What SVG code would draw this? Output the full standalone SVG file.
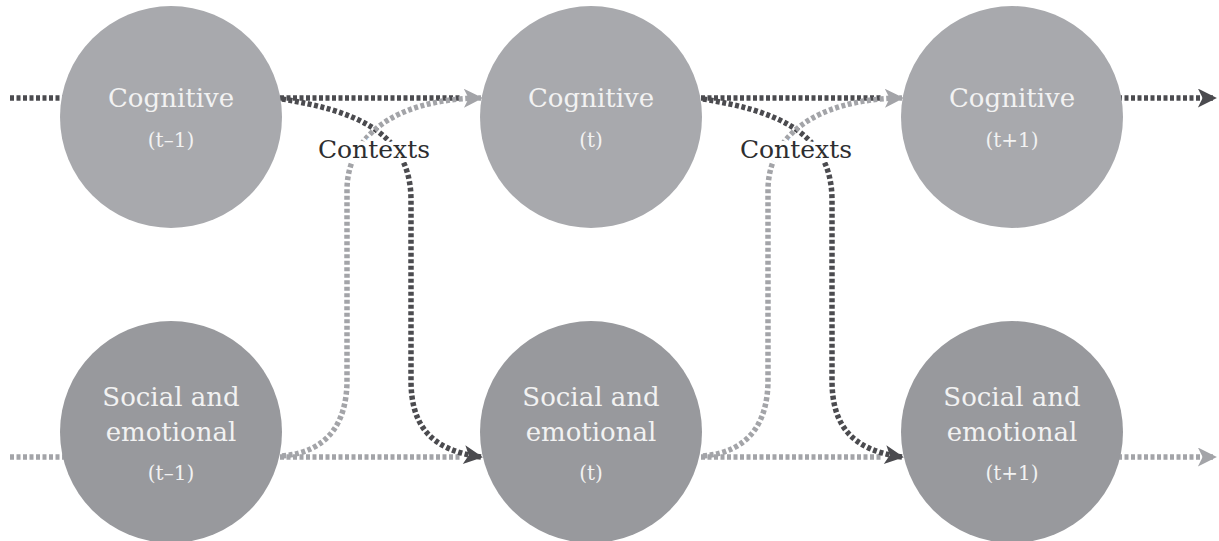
<svg xmlns="http://www.w3.org/2000/svg" width="1219" height="541" viewBox="0 0 1219 541">
  <style>
    .cog { fill: #a8a9ad; }
    .soc { fill: #98999d; }
    .lbl { font-family: "DejaVu Serif", "Liberation Serif", serif; fill: #f2f2f2; text-anchor: middle; }
    .main { font-size: 26px; }
    .sub { font-size: 20px; }
    .ctx { font-family: "DejaVu Serif", "Liberation Serif", serif; font-size: 25px; fill: #2e2e30; text-anchor: middle; stroke: #ffffff; stroke-width: 8px; paint-order: stroke; stroke-linejoin: round; }
    .dk { fill: none; stroke: #4b4b4f; stroke-width: 5.5; stroke-dasharray: 4 2.5; }
    .lt { fill: none; stroke: #a3a4a8; stroke-width: 5.5; stroke-dasharray: 4 2.5; }
  </style>
  <defs>
    <marker id="ahDark" viewBox="0 0 10 10" refX="9" refY="5" markerWidth="24" markerHeight="19" markerUnits="userSpaceOnUse" orient="auto">
      <path d="M0,0 L10,5 L0,10 L2.5,5 z" fill="#4b4b4f"/>
    </marker>
    <marker id="ahLight" viewBox="0 0 10 10" refX="9" refY="5" markerWidth="24" markerHeight="19" markerUnits="userSpaceOnUse" orient="auto">
      <path d="M0,0 L10,5 L0,10 L2.5,5 z" fill="#a3a4a8"/>
    </marker>
  </defs>

  <g id="connectors">
    <!-- leading lines -->
    <path class="dk" d="M10,98 L70,98"/>
    <path class="lt" d="M10,457 L70,457"/>

    <!-- block 1: t-1 to t -->
    <path class="dk" d="M280,98 L462,98"/>
    <path class="lt" d="M280,457 L462,457"/>
    <path class="dk" marker-end="url(#ahDark)" d="M282,99 C350,110 411,130 411,200 L411,380 C411,425 430,450 481,457"/>
    <path class="lt" marker-end="url(#ahLight)" d="M282,456 C330,452 347,420 347,380 L347,190 C347,140 390,99 481,98"/>

    <!-- block 2: t to t+1 -->
    <path class="dk" d="M701,98 L883,98"/>
    <path class="lt" d="M701,457 L883,457"/>
    <path class="dk" marker-end="url(#ahDark)" d="M703,99 C771,110 832,130 832,200 L832,380 C832,425 851,450 902,457"/>
    <path class="lt" marker-end="url(#ahLight)" d="M703,456 C751,452 768,420 768,380 L768,190 C768,140 811,99 902,98"/>

    <!-- trailing arrows -->
    <path class="dk" marker-end="url(#ahDark)" d="M1118,98 L1215,98"/>
    <path class="lt" marker-end="url(#ahLight)" d="M1118,457 L1215,457"/>
  </g>

  <g id="label-contexts-1"><text class="ctx" x="374" y="158">Contexts</text></g>
  <g id="label-contexts-2"><text class="ctx" x="796" y="158">Contexts</text></g>

  <g id="node-cog-t-1">
    <circle class="cog" cx="171" cy="117" r="111"/>
    <text class="lbl main" x="171" y="107">Cognitive</text>
    <text class="lbl sub" x="171" y="147">(t–1)</text>
  </g>
  <g id="node-cog-t">
    <circle class="cog" cx="591" cy="117" r="111"/>
    <text class="lbl main" x="591" y="107">Cognitive</text>
    <text class="lbl sub" x="591" y="147">(t)</text>
  </g>
  <g id="node-cog-t1">
    <circle class="cog" cx="1012" cy="117" r="111"/>
    <text class="lbl main" x="1012" y="107">Cognitive</text>
    <text class="lbl sub" x="1012" y="147">(t+1)</text>
  </g>
  <g id="node-soc-t-1">
    <circle class="soc" cx="171" cy="432" r="111"/>
    <text class="lbl main" x="171" y="406">Social and</text>
    <text class="lbl main" x="171" y="441">emotional</text>
    <text class="lbl sub" x="171" y="480">(t–1)</text>
  </g>
  <g id="node-soc-t">
    <circle class="soc" cx="591" cy="432" r="111"/>
    <text class="lbl main" x="591" y="406">Social and</text>
    <text class="lbl main" x="591" y="441">emotional</text>
    <text class="lbl sub" x="591" y="480">(t)</text>
  </g>
  <g id="node-soc-t1">
    <circle class="soc" cx="1012" cy="432" r="111"/>
    <text class="lbl main" x="1012" y="406">Social and</text>
    <text class="lbl main" x="1012" y="441">emotional</text>
    <text class="lbl sub" x="1012" y="480">(t+1)</text>
  </g>
</svg>
